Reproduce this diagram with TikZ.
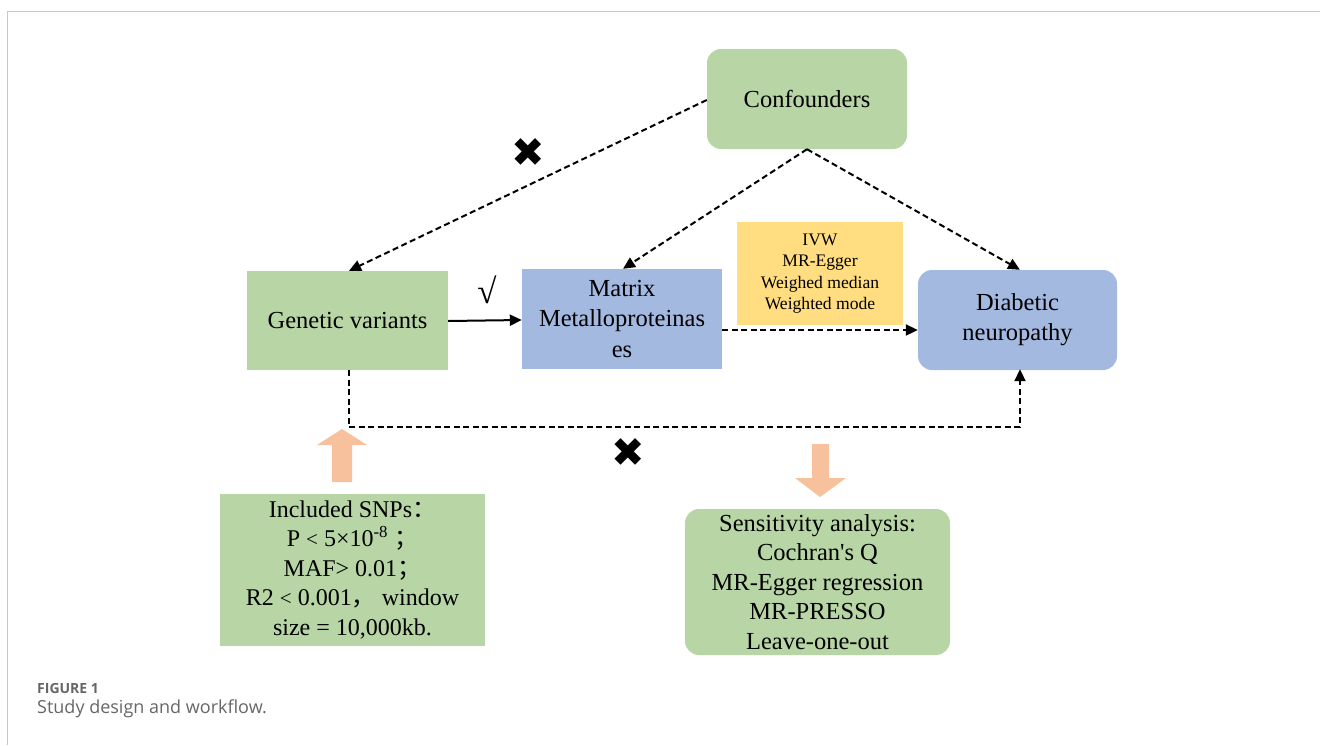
\documentclass[tikz,border=0pt]{standalone}
\usepackage{fontspec}
\setmainfont{Liberation Serif}
\newfontfamily\capfont{Open Sans}
\newfontfamily\symfont{DejaVu Sans}
\newfontfamily\cjk{Noto Sans CJK SC}
\usetikzlibrary{arrows.meta}
\definecolor{gfill}{HTML}{B8D6A5}
\definecolor{bfill}{HTML}{A3B9E0}
\definecolor{yfill}{HTML}{FFDD80}
\definecolor{ofill}{HTML}{F8C19D}
\definecolor{framec}{HTML}{C8C8C8}
\definecolor{capc}{HTML}{666666}
\tikzset{
  box/.style={inner sep=2pt, align=center, font=\fontsize{24.5}{30}\selectfont},
  gbox/.style={box, fill=gfill},
  bbox/.style={box, fill=bfill},
  rbox/.style={rounded corners=14pt},
  darr/.style={line width=2pt, dash pattern=on 6pt off 3.5pt, -{Triangle[length=12pt,width=11pt]}},
  solidarr/.style={line width=2pt, -{Triangle[length=12pt,width=11pt]}},
  crossmark/.style={font=\symfont\fontsize{40}{40}\selectfont, inner sep=0pt},
}
\begin{document}
\begin{tikzpicture}[x=1pt,y=-1pt]
\useasboundingbox (0,0) rectangle (1320,745);
% frame
\draw[framec, line width=1pt] (7,745) -- (7,11) -- (1320,11);

% nodes
\node[gbox, rbox, minimum width=200pt, minimum height=100pt] (conf) at (807,99) {Confounders};
\node[gbox, minimum width=201pt, minimum height=99pt] (gen) at (347.5,320.5) {Genetic variants};
\node[bbox, minimum width=200pt, minimum height=100pt, font=\fontsize{24.5}{30.5}\selectfont] (mmp) at (622,319) {Matrix\\Metalloproteinas\\es};
\node[box, fill=yfill, minimum width=166pt, minimum height=103pt, font=\fontsize{17.6}{21.3}\selectfont] (ivw) at (820,273.5) {IVW\\MR-Egger\\Weighed median\\Weighted mode};
\node[bbox, rbox, minimum width=199pt, minimum height=100pt, font=\fontsize{24.5}{30}\selectfont] (dn) at (1017.5,320) {Diabetic\\neuropathy};
\node[gbox, minimum width=265pt, minimum height=152pt, font=\fontsize{24}{29.5}\selectfont] (snp) at (352.5,570) {Included SNPs{\cjk ：}\\P {\fontsize{21}{22}\selectfont<} 5×10\textsuperscript{-8} {\cjk ；}\\MAF> 0.01{\cjk ；}\\R2 {\fontsize{21}{22}\selectfont<} 0.001{\cjk ，} window\\size = 10,000kb.};
\node[gbox, rbox, minimum width=265pt, minimum height=146pt, font=\fontsize{24.5}{29.5}\selectfont] (sens) at (817.5,582) {Sensitivity analysis:\\Cochran\textquotesingle s Q\\MR-Egger regression\\MR-PRESSO\\Leave-one-out};

% marks
\node[crossmark] (x1) at (528,153) {✖};
\node[crossmark] (x2) at (628,453) {✖};
\node[inner sep=0pt, font=\fontsize{35}{35}\selectfont] (chk) at (487,290) {√};

% orange block arrows
\fill[ofill] (342,429) -- (367,445) -- (352,445) -- (352,482) -- (332,482) -- (332,445) -- (317,445) -- cycle;
\fill[ofill] (820,497) -- (846,478) -- (829,478) -- (829,444) -- (812,444) -- (812,478) -- (795,478) -- cycle;

% coordinates
\coordinate (gb) at (gen.south -| 349,0);
\coordinate (c1) at (349,427);
\coordinate (c2) at (1020,427);
\coordinate (dnb) at (dn.south -| 1020,0);

% connectors
\draw[darr] (conf.west |- 0,100) -- (gen.north -| 349,0);
\draw[darr] (conf.south) -- (mmp.north -| 623,0);
\draw[darr] (conf.south) -- (dn.north -| 1020,0);
\draw[solidarr] (gen.east |- 0,321) -- (mmp.west |- 0,320);
\draw[darr] (mmp.east |- 0,330) -- (dn.west |- 0,330);
\draw[darr] (gb) -- (c1) -- (c2) -- ([yshift=1pt]dnb);

% caption
\node[anchor=west, inner sep=0pt, text=capc, font=\capfont\bfseries\fontsize{14}{16}\selectfont] (fig) at (37,688) {FIGURE 1};
\node[anchor=west, inner sep=0pt, text=capc, font=\capfont\fontsize{18}{20}\selectfont] (cap) at (37,709) {Study design and workflow.};
\end{tikzpicture}
\end{document}
